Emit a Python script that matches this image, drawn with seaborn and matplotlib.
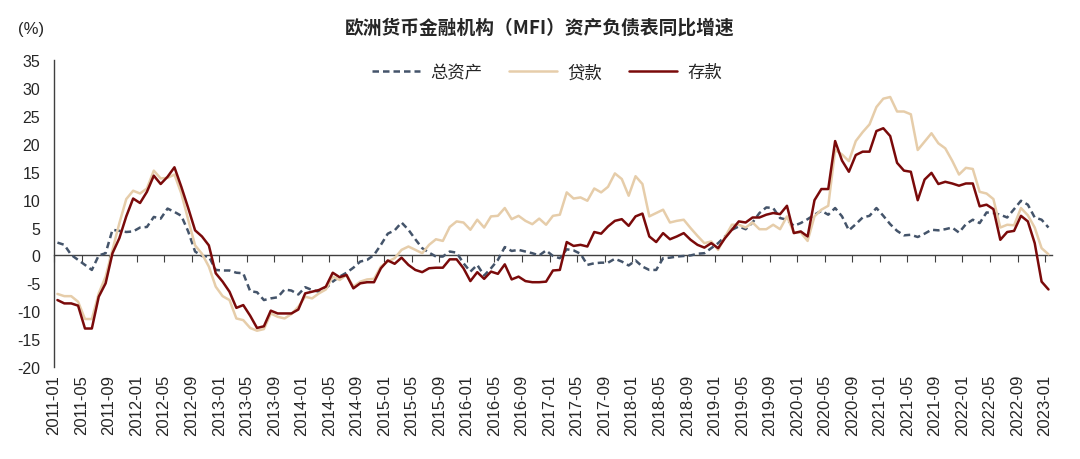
import numpy as np
import pandas as pd
import matplotlib
matplotlib.use("Agg")
import matplotlib.pyplot as plt
import seaborn as sns

# 月份: 2011-01 ~ 2023-01
months = pd.date_range("2011-01-01", "2023-01-01", freq="MS").strftime("%Y-%m").tolist()

# 总资产 同比 (%)
total_assets = [
    2.3, 1.9, 0.1, -0.8, -1.7, -2.6, 0.0, 0.4, 4.6, 4.4, 4.2, 4.3,
    5.0, 5.1, 6.9, 6.6, 8.4, 7.8, 7.1, 4.3, 0.7, -0.1, -0.2, -2.6,
    -2.7, -2.7, -3.1, -3.2, -6.4, -6.6, -8.0, -7.7, -7.5, -6.1, -6.3, -7.0,
    -5.7, -6.2, -6.5, -5.9, -4.7, -3.8, -3.1, -2.2, -1.1, -0.8, 0.1, 1.9,
    3.9, 4.5, 5.9, 4.6, 2.9, 1.3, 0.5, -0.2, -0.2, 0.7, 0.5, -1.4,
    -2.9, -1.7, -3.6, -2.3, -0.8, 1.5, 0.8, 1.0, 0.7, 0.4, 0.0, 0.9,
    -0.1, -0.5, 1.1, 0.9, 0.3, -1.7, -1.4, -1.3, -1.3, -0.6, -1.1, -1.8,
    -0.9, -2.0, -2.6, -2.6, -0.5, -0.4, -0.2, -0.1, 0.0, 0.3, 0.4, 1.3,
    2.2, 3.4, 4.6, 5.2, 4.7, 5.9, 7.6, 8.6, 8.5, 6.7, 6.4, 5.3,
    5.8, 6.5, 7.3, 8.0, 7.3, 8.5, 7.0, 4.5, 5.6, 6.8, 7.1, 8.5,
    7.1, 5.6, 4.4, 3.6, 3.7, 3.3, 3.9, 4.6, 4.5, 4.7, 5.0, 4.1,
    5.6, 6.4, 5.8, 7.7, 7.6, 7.3, 6.8, 8.3, 9.8, 9.1, 6.8, 6.4,
    5.0,
]

# 贷款 同比 (%)
loans = [
    -6.9, -7.3, -7.3, -8.3, -11.4, -11.4, -6.8, -3.8, 1.0, 5.8, 10.1, 11.6,
    11.1, 12.0, 15.2, 13.8, 13.9, 14.5, 11.1, 6.4, 1.8, 0.3, -2.0, -5.6,
    -7.3, -8.0, -11.3, -11.6, -13.0, -13.5, -13.2, -10.4, -11.0, -11.3, -10.5, -9.2,
    -7.4, -7.7, -6.8, -6.1, -3.8, -4.4, -3.5, -5.6, -4.7, -4.3, -4.2, -2.0,
    -1.1, -0.5, 1.0, 1.6, 1.0, 0.4, 1.9, 2.9, 2.6, 5.1, 6.1, 5.9,
    4.6, 6.4, 5.0, 7.0, 7.1, 8.5, 6.5, 7.1, 6.2, 5.6, 6.6, 5.5,
    7.1, 7.3, 11.3, 10.2, 10.4, 9.8, 12.0, 11.3, 12.3, 14.7, 13.7, 10.7,
    14.2, 12.8, 7.0, 7.6, 8.2, 5.9, 6.2, 6.4, 4.9, 3.5, 2.2, 2.5,
    1.0, 3.3, 5.5, 5.5, 5.0, 5.9, 4.7, 4.7, 5.5, 4.7, 7.0, 4.1,
    4.1, 2.6, 7.0, 8.2, 8.9, 18.9, 18.1, 16.9, 20.5, 22.1, 23.5, 26.6,
    28.1, 28.4, 25.8, 25.8, 25.3, 18.9, 20.4, 21.9, 20.1, 19.2, 17.0, 14.5,
    15.7, 15.5, 11.4, 11.1, 10.1, 5.0, 5.5, 5.4, 8.5, 7.2, 5.0, 1.3,
    0.2,
]

# 存款 同比 (%)
deposits = [
    -8.0, -8.6, -8.6, -9.0, -13.1, -13.1, -7.4, -5.0, 0.4, 3.1, 7.0, 10.2,
    9.4, 11.4, 14.3, 12.8, 14.1, 15.8, 12.3, 8.5, 4.5, 3.4, 1.8, -3.2,
    -4.7, -6.5, -9.4, -8.9, -10.8, -13.0, -12.7, -9.9, -10.4, -10.4, -10.4, -9.7,
    -6.8, -6.5, -6.2, -5.6, -3.1, -3.9, -3.5, -5.9, -5.0, -4.8, -4.8, -2.3,
    -0.9, -1.5, -0.4, -1.7, -2.6, -3.0, -2.3, -2.2, -2.2, -0.7, -0.7, -2.3,
    -4.6, -3.0, -4.2, -2.9, -3.3, -1.6, -4.3, -3.8, -4.6, -4.8, -4.8, -4.7,
    -2.7, -2.6, 2.4, 1.7, 1.9, 1.6, 4.2, 3.9, 5.2, 6.2, 6.5, 5.3,
    7.0, 7.5, 3.4, 2.4, 4.0, 2.9, 3.4, 4.0, 2.8, 1.9, 1.4, 2.2,
    1.3, 3.1, 4.6, 6.1, 5.9, 6.8, 6.8, 7.3, 7.6, 7.4, 8.9, 4.0,
    4.3, 3.4, 9.9, 11.9, 11.9, 20.5, 17.0, 15.0, 18.0, 18.6, 18.6, 22.3,
    22.8, 21.4, 16.6, 15.2, 15.0, 9.9, 13.6, 14.8, 12.8, 13.2, 12.9, 12.5,
    12.9, 12.9, 8.8, 9.1, 8.3, 2.8, 4.2, 4.4, 7.1, 6.1, 2.2, -4.7,
    -6.1,
]

yticks = list(range(-20, 40, 5))

sns.set_style("white")
plt.rcParams["font.family"] = ["Liberation Sans", "Noto Sans CJK SC", "DejaVu Sans"]
plt.rcParams["axes.unicode_minus"] = False

idx = np.arange(len(months))
df = pd.DataFrame({"idx": idx, "总资产": total_assets, "贷款": loans, "存款": deposits})

fig = plt.figure(figsize=(10.8, 4.6), dpi=100)
ax = fig.add_axes([0.05, 0.2, 0.924, 0.667])

sns.lineplot(data=df, x="idx", y="总资产", ax=ax, color="#44546A", lw=1.8,
             linestyle=(0, (2.6, 1.6)), label="总资产")
sns.lineplot(data=df, x="idx", y="贷款", ax=ax, color="#E6CDAA", lw=1.8, label="贷款")
sns.lineplot(data=df, x="idx", y="存款", ax=ax, color="#7A0A0A", lw=1.8, label="存款")

ax.set_xlim(-0.5, len(months) - 0.5)
ax.set_ylim(-20, 35)
ax.set_yticks(yticks)
ax.set_yticklabels([str(t) for t in yticks], fontsize=11.5)
ax.set_xlabel("")
ax.set_ylabel("")

tick_pos = idx[::4] - 0.5
ax.set_xticks(tick_pos)
ax.set_xticklabels(months[::4], rotation=90, fontsize=12)
ax.tick_params(axis="x", length=0, pad=5)
ax.tick_params(axis="y", direction="out", length=4, color="#404040", pad=6)

for s in ["top", "right", "bottom"]:
    ax.spines[s].set_visible(False)
ax.spines["left"].set_color("#404040")
ax.spines["left"].set_linewidth(1.0)

# zero line with its own tick marks
zero_ax = ax.secondary_xaxis(20 / 55)
zero_ax.set_xticks(tick_pos)
zero_ax.tick_params(axis="x", direction="out", length=5, color="#404040", labelbottom=False)
zero_ax.spines["bottom"].set_color("#404040")
zero_ax.spines["bottom"].set_linewidth(1.0)

leg = ax.legend(loc="center", bbox_to_anchor=(0.494, 0.96), ncol=3, frameon=False,
                handlelength=2.8, handletextpad=0.6, columnspacing=1.5,
                prop={"family": ["Noto Sans CJK SC"], "size": 12.5})

fig.text(0.5, 0.94, "欧洲货币金融机构（MFI）资产负债表同比增速", ha="center", va="center",
         fontsize=13.5, fontweight="bold", family=["Noto Sans CJK SC"])
fig.text(0.017, 0.935, "(%)", ha="left", va="center", fontsize=12)

fig.savefig("out.png", dpi=100)
